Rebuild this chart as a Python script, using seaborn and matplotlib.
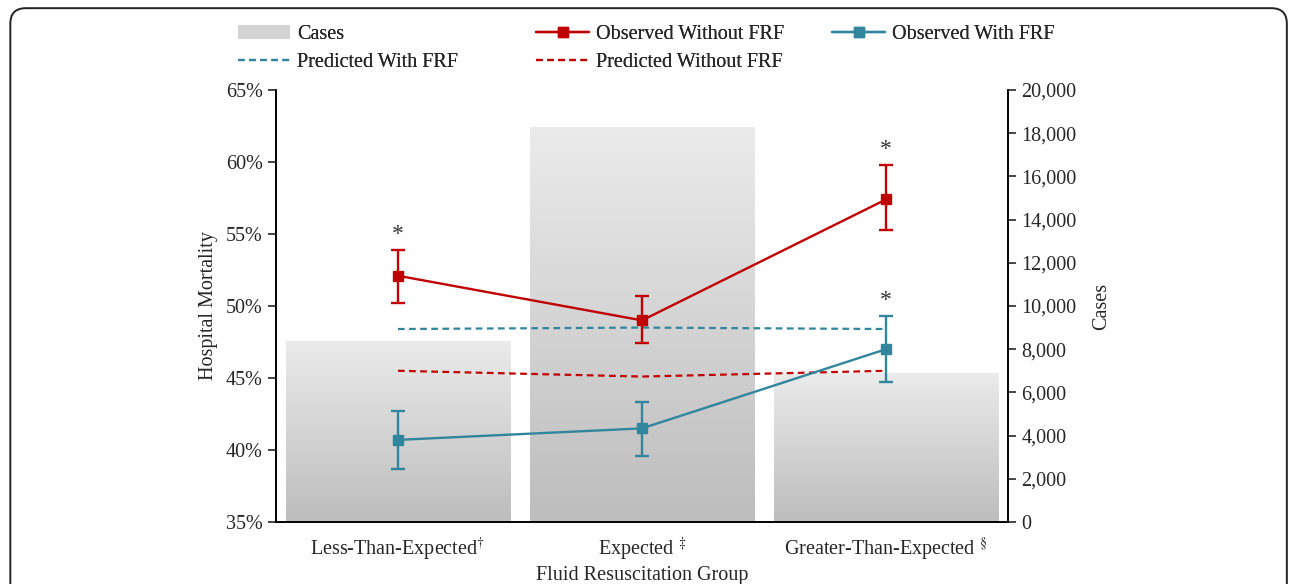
import numpy as np
import pandas as pd
import matplotlib
matplotlib.use("Agg")
import matplotlib.pyplot as plt
from matplotlib.patches import FancyBboxPatch, Patch
from matplotlib.lines import Line2D
from matplotlib.ticker import FuncFormatter, MultipleLocator
import seaborn as sns

# ---- data -------------------------------------------------------------
groups = ["Less-Than-Expected", "Expected", "Greater-Than-Expected"]
group_marks = [r"$^{\dagger}$", r" $^{\ddagger}$", r" $^{\S}$"]
cases = [8400, 18300, 6900]

obs_without = [52.1, 49.0, 57.4]
obs_without_lo = [50.2, 47.4, 55.3]
obs_without_hi = [53.9, 50.7, 59.8]

obs_with = [40.7, 41.5, 47.0]
obs_with_lo = [38.7, 39.6, 44.7]
obs_with_hi = [42.7, 43.3, 49.3]

pred_with = [48.4, 48.5, 48.4]
pred_without = [45.5, 45.1, 45.5]

sig_without = [True, False, True]
sig_with = [False, False, True]

# ---- style ------------------------------------------------------------
sns.set_style("white")
plt.rcParams["font.family"] = ["Liberation Serif", "DejaVu Serif"]
plt.rcParams["mathtext.fontset"] = "stix"
FS = 14.5
plt.rcParams["font.size"] = FS

RED = "#C00000"
TEAL = "#31859C"
DASH = (0, (3, 2))

fig = plt.figure(figsize=(12.92, 5.84), dpi=100)
ax = fig.add_axes([0.2136, 0.1062, 0.5666, 0.7397])
ax2 = ax.twinx()

# bars of case counts on the right-hand axis, shaded with a vertical gradient
df = pd.DataFrame({"group": groups, "cases": cases})
sns.barplot(data=df, x="group", y="cases", ax=ax2, width=0.92,
            color="#d0d0d0", edgecolor="none")
grad = np.linspace(0, 1, 256).reshape(-1, 1)
cmap = matplotlib.colors.LinearSegmentedColormap.from_list("g", ["#bdbdbd", "#ebebeb"])
for p in list(ax2.patches):
    x0, w, h = p.get_x(), p.get_width(), p.get_height()
    im = ax2.imshow(grad, cmap=cmap, origin="lower", aspect="auto",
                    extent=[x0, x0 + w, 0, h], zorder=1)
    im.set_clip_path(p)
    p.set_facecolor("none")
ax2.set_xlim(-0.5, 2.5)
ax2.set_ylim(0, 20000)

# lines on the left axis, drawn above the bars
ax.set_zorder(ax2.get_zorder() + 1)
ax.patch.set_visible(False)
xs = np.arange(len(groups))

sns.lineplot(x=xs, y=pred_with, ax=ax, color=TEAL, linestyle=DASH, lw=1.6)
sns.lineplot(x=xs, y=pred_without, ax=ax, color=RED, linestyle=DASH, lw=1.6)

for vals, lo, hi, col, sig in [
    (obs_without, obs_without_lo, obs_without_hi, RED, sig_without),
    (obs_with, obs_with_lo, obs_with_hi, TEAL, sig_with),
]:
    vals = np.array(vals)
    yerr = [vals - np.array(lo), np.array(hi) - vals]
    ax.errorbar(xs, vals, yerr=yerr, color=col, lw=1.7, marker="s", ms=7,
                capsize=5, capthick=1.7, elinewidth=1.7)
    for xi, h, s in zip(xs, hi, sig):
        if s:
            ax.text(xi, h + 0.35, "*", ha="center", va="bottom", fontsize=17,
                    color="#333333")

ax.set_ylim(35, 65)
ax.set_xlim(-0.5, 2.5)
ax.yaxis.set_major_locator(MultipleLocator(5))
ax.yaxis.set_major_formatter(FuncFormatter(lambda v, _: f"{v:.0f}%"))
ax2.yaxis.set_major_locator(MultipleLocator(2000))
ax2.yaxis.set_major_formatter(FuncFormatter(lambda v, _: f"{v:,.0f}"))

# category labels between boundary ticks
ax.set_xticks([-0.5, 0.5, 1.5, 2.5])
ax.set_xticklabels([])
ax.set_xticks(xs, [g + m for g, m in zip(groups, group_marks)], minor=True)
ax.tick_params(axis="x", which="minor", length=0, pad=10, labelsize=FS)
ax.tick_params(axis="x", which="major", direction="out", length=6, width=1.2)
ax.tick_params(axis="y", direction="out", length=6, width=1.2, labelsize=FS)
ax2.tick_params(axis="y", direction="out", length=6, width=1.2, labelsize=FS)
ax2.set_xticks([])
ax2.set_xlabel("")

for a in (ax, ax2):
    for s in a.spines.values():
        s.set_color("black")
        s.set_linewidth(1.2)
    a.spines["top"].set_visible(False)

ax.set_ylabel("Hospital Mortality", labelpad=6, fontsize=FS)
ax2.set_ylabel("Cases", labelpad=11, fontsize=FS)
ax.set_xlabel("Fluid Resuscitation Group", labelpad=2, fontsize=FS)

# legend, one column block per anchor
columns = [
    ([Patch(facecolor="#d3d3d3", edgecolor="none"),
      Line2D([], [], color=TEAL, ls=DASH, lw=1.6)],
     ["Cases", "Predicted With FRF"], 0.178),
    ([Line2D([], [], color=RED, lw=1.7, marker="s", ms=7),
      Line2D([], [], color=RED, ls=DASH, lw=1.6)],
     ["Observed Without FRF", "Predicted Without FRF"], 0.409),
    ([Line2D([], [], color=TEAL, lw=1.7, marker="s", ms=7)],
     ["Observed With FRF"], 0.638),
]
for hs, ls, x in columns:
    leg = fig.legend(hs, ls, loc="upper left", bbox_to_anchor=(x, 0.971),
                     frameon=False, handlelength=2.6, handletextpad=0.35,
                     labelspacing=0.45, fontsize=FS, borderaxespad=0)
    fig.add_artist(leg)

# rounded frame around the figure
frame = FancyBboxPatch((0.008, -0.1), 0.988, 1.086, transform=fig.transFigure,
                       boxstyle="round,pad=0,rounding_size=0.012",
                       mutation_aspect=2.2, facecolor="none",
                       edgecolor="#222222", lw=1.4, zorder=10)
fig.patches.append(frame)

fig.savefig("out.png", dpi=100)
